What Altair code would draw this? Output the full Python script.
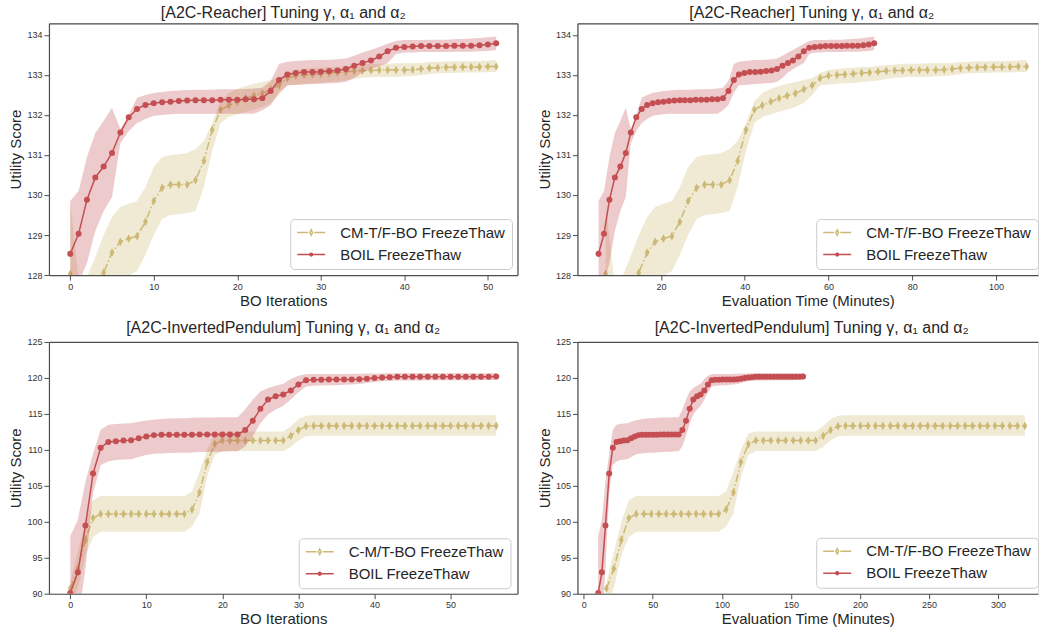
import altair as alt
import pandas as pd

# ------------------------------------------------------------------ data
reacher_iter = list(range(52))
reacher_red_time = [5.1, 6.4, 7.7, 9.0, 10.3, 11.6, 12.8, 14.1, 15.4, 16.7,
                    18.0, 19.3, 20.6, 21.9, 23.2, 24.5, 25.7, 27.0, 28.3, 29.6,
                    30.9, 32.2, 33.5, 34.8, 36.1, 37.4, 38.6, 39.9, 41.2, 42.5,
                    43.8, 45.1, 46.4, 47.7, 49.0, 50.3, 51.5, 52.8, 54.1, 55.4,
                    56.7, 58.0, 59.3, 60.6, 61.9, 63.2, 64.4, 65.7, 67.0, 68.3,
                    69.6, 70.9]
reacher_gold_time = [6.8, 8.8, 10.7, 12.7, 14.7, 16.7, 18.6, 20.6, 22.6, 24.5,
                     26.5, 28.5, 30.4, 32.4, 34.4, 36.4, 38.3, 40.3, 42.3, 44.2,
                     46.2, 48.2, 50.1, 52.1, 54.1, 56.1, 58.0, 60.0, 62.0, 63.9,
                     65.9, 67.9, 69.8, 71.8, 73.8, 75.8, 77.7, 79.7, 81.7, 83.6,
                     85.6, 87.6, 89.5, 91.5, 93.5, 95.5, 97.4, 99.4, 101.4, 103.3,
                     105.3, 107.3]
reacher_red_mean = [128.53, 129.03, 129.88, 130.44, 130.71, 131.05, 131.56, 131.94, 132.15, 132.25,
                    132.29, 132.32, 132.33, 132.35, 132.36, 132.37, 132.37, 132.37, 132.38, 132.38,
                    132.38, 132.39, 132.39, 132.42, 132.60, 132.87, 133.01, 133.05, 133.07, 133.07,
                    133.08, 133.10, 133.11, 133.15, 133.23, 133.30, 133.36, 133.46, 133.59, 133.68,
                    133.70, 133.71, 133.72, 133.72, 133.72, 133.72, 133.73, 133.73, 133.73, 133.74,
                    133.76, 133.79]
reacher_red_hi = [129.85, 130.10, 130.95, 131.55, 131.85, 132.18, 131.65, 132.00, 132.43, 132.50,
                  132.55, 132.57, 132.60, 132.61, 132.62, 132.63, 132.63, 132.63, 132.64, 132.64,
                  132.64, 132.65, 132.66, 132.68, 132.85, 133.27, 133.33, 133.35, 133.36, 133.37,
                  133.37, 133.38, 133.39, 133.41, 133.48, 133.56, 133.62, 133.70, 133.78, 133.85,
                  133.87, 133.87, 133.87, 133.88, 133.88, 133.88, 133.89, 133.90, 133.91, 133.92,
                  133.94, 133.96]
reacher_red_lo = [127.00, 127.80, 128.30, 129.10, 129.60, 129.95, 131.30, 131.60, 131.80, 131.90,
                  131.98, 132.00, 132.02, 132.03, 132.03, 132.03, 132.03, 132.03, 132.03, 132.03,
                  132.03, 132.03, 132.03, 132.12, 132.25, 132.56, 132.74, 132.75, 132.76, 132.77,
                  132.78, 132.79, 132.80, 132.83, 132.92, 133.06, 133.14, 133.22, 133.30, 133.52,
                  133.56, 133.56, 133.57, 133.57, 133.57, 133.57, 133.58, 133.58, 133.58, 133.59,
                  133.60, 133.62]
reacher_gold_mean = [128.03, 127.60, 127.50, 127.85, 128.06, 128.56, 128.83, 128.91, 128.97, 129.33,
                     129.85, 130.18, 130.26, 130.26, 130.26, 130.37, 130.85, 131.63, 132.13, 132.24,
                     132.33, 132.42, 132.48, 132.54, 132.64, 132.74, 132.92, 132.98, 133.00, 133.01,
                     133.03, 133.05, 133.06, 133.08, 133.10, 133.11, 133.11, 133.12, 133.12, 133.12,
                     133.12, 133.13, 133.15, 133.17, 133.18, 133.19, 133.19, 133.20, 133.20, 133.20,
                     133.21, 133.21]
reacher_gold_hi = [129.80, 127.90, 127.95, 128.45, 129.00, 129.45, 129.70, 129.78, 129.85, 130.20,
                   130.70, 130.95, 131.00, 131.02, 131.05, 131.15, 131.35, 131.80, 132.35, 132.55,
                   132.65, 132.72, 132.78, 132.82, 132.87, 132.92, 133.05, 133.12, 133.15, 133.17,
                   133.18, 133.20, 133.20, 133.22, 133.24, 133.26, 133.28, 133.28, 133.28, 133.29,
                   133.29, 133.29, 133.30, 133.32, 133.33, 133.34, 133.34, 133.35, 133.35, 133.35,
                   133.36, 133.37]
reacher_gold_lo = [127.00, 126.80, 126.90, 127.30, 127.90, 127.90, 127.95, 127.98, 128.10, 128.50,
                   129.00, 129.40, 129.50, 129.52, 129.55, 129.60, 130.20, 131.10, 131.80, 131.95,
                   132.02, 132.08, 132.13, 132.20, 132.30, 132.50, 132.74, 132.76, 132.78, 132.79,
                   132.80, 132.82, 132.84, 132.86, 132.90, 132.93, 132.94, 132.95, 132.95, 132.95,
                   132.96, 132.97, 132.99, 133.02, 133.04, 133.05, 133.05, 133.06, 133.06, 133.06,
                   133.07, 133.07]

pend_iter = list(range(57))
pend_red_time = [10.4, 13.1, 15.7, 18.4, 21.0, 23.7, 26.3, 29.0, 31.6, 34.3,
                 36.9, 39.6, 42.2, 44.9, 47.5, 50.2, 52.8, 55.5, 58.1, 60.8,
                 63.4, 66.1, 68.7, 71.4, 74.0, 76.7, 79.3, 82.0, 84.6, 87.3,
                 89.9, 92.6, 95.2, 97.9, 100.5, 103.2, 105.8, 108.5, 111.1, 113.8,
                 116.4, 119.1, 121.7, 124.4, 127.0, 129.7, 132.3, 135.0, 137.6, 140.3,
                 142.9, 145.6, 148.2, 150.9, 153.5, 156.2, 158.8]
pend_gold_time = [16.4, 21.8, 27.2, 32.6, 38.0, 43.5, 48.9, 54.3, 59.7, 65.1,
                  70.5, 75.9, 81.3, 86.7, 92.1, 97.6, 103.0, 108.4, 113.8, 119.2,
                  124.6, 130.0, 135.4, 140.8, 146.2, 151.7, 157.1, 162.5, 167.9, 173.3,
                  178.7, 184.1, 189.5, 194.9, 200.3, 205.8, 211.2, 216.6, 222.0, 227.4,
                  232.8, 238.2, 243.6, 249.0, 254.4, 259.9, 265.3, 270.7, 276.1, 281.5,
                  286.9, 292.3, 297.7, 303.1, 308.5, 314.0, 319.4]
pend_red_mean = [90.10, 92.97, 99.50, 106.70, 110.30, 111.10, 111.20, 111.30, 111.35, 111.60,
                 111.87, 112.05, 112.10, 112.10, 112.10, 112.10, 112.10, 112.12, 112.12, 112.12,
                 112.13, 112.14, 112.15, 112.75, 114.05, 115.70, 117.00, 117.45, 117.70, 118.27,
                 119.10, 119.67, 119.76, 119.76, 119.77, 119.77, 119.78, 119.79, 119.82, 119.90,
                 120.00, 120.05, 120.10, 120.15, 120.17, 120.18, 120.18, 120.18, 120.18, 120.18,
                 120.18, 120.18, 120.18, 120.18, 120.18, 120.18, 120.20]
pend_red_hi = [98.00, 100.30, 105.60, 109.50, 112.80, 113.50, 113.60, 113.65, 113.70, 113.90,
               114.10, 114.20, 114.30, 114.35, 114.40, 114.40, 114.45, 114.50, 114.50, 114.50,
               114.52, 114.53, 114.55, 115.60, 117.00, 118.10, 118.60, 118.90, 119.20, 119.85,
               120.30, 120.50, 120.55, 120.55, 120.55, 120.56, 120.56, 120.57, 120.58, 120.60,
               120.62, 120.63, 120.64, 120.65, 120.65, 120.65, 120.65, 120.65, 120.65, 120.65,
               120.65, 120.65, 120.65, 120.65, 120.65, 120.66, 120.67]
pend_red_lo = [82.00, 86.00, 93.50, 104.00, 107.90, 108.40, 108.60, 108.65, 108.70, 109.00,
               109.30, 109.45, 109.50, 109.55, 109.60, 109.60, 109.65, 109.70, 109.70, 109.75,
               109.75, 109.80, 109.80, 110.50, 111.90, 113.70, 114.90, 115.60, 116.10, 117.00,
               118.00, 118.80, 118.90, 118.95, 119.00, 119.00, 119.05, 119.10, 119.15, 119.30,
               119.45, 119.55, 119.60, 119.65, 119.65, 119.66, 119.66, 119.67, 119.67, 119.68,
               119.68, 119.68, 119.69, 119.69, 119.70, 119.70, 119.70]
pend_gold_mean = [90.74, 93.50, 97.50, 100.50, 101.10, 101.10, 101.10, 101.10, 101.10, 101.10,
                  101.10, 101.10, 101.10, 101.10, 101.10, 101.10, 101.70, 104.10, 108.30, 110.80,
                  111.30, 111.30, 111.30, 111.30, 111.30, 111.30, 111.30, 111.30, 111.30, 111.96,
                  112.75, 113.30, 113.35, 113.35, 113.35, 113.35, 113.35, 113.35, 113.35, 113.35,
                  113.35, 113.35, 113.35, 113.35, 113.35, 113.35, 113.35, 113.35, 113.35, 113.35,
                  113.35, 113.35, 113.35, 113.35, 113.35, 113.35, 113.35]
pend_gold_hi = [91.60, 95.80, 100.00, 103.00, 103.60, 103.60, 103.60, 103.60, 103.60, 103.60,
                103.60, 103.60, 103.60, 103.60, 103.60, 103.60, 104.20, 107.00, 110.00, 112.30,
                112.55, 112.55, 112.55, 112.55, 112.55, 112.55, 112.55, 112.55, 112.55, 113.30,
                114.30, 114.75, 114.80, 114.80, 114.80, 114.80, 114.80, 114.80, 114.80, 114.80,
                114.80, 114.80, 114.80, 114.80, 114.80, 114.80, 114.80, 114.80, 114.80, 114.80,
                114.80, 114.80, 114.80, 114.80, 114.80, 114.80, 114.80]
pend_gold_lo = [88.50, 90.80, 95.30, 97.90, 98.60, 98.60, 98.60, 98.60, 98.60, 98.60,
                98.60, 98.60, 98.60, 98.60, 98.60, 98.60, 99.30, 101.20, 106.30, 109.30,
                109.85, 109.85, 109.85, 109.85, 109.85, 109.85, 109.85, 109.85, 109.85, 110.40,
                111.30, 111.90, 111.95, 111.95, 111.95, 111.95, 111.95, 111.95, 111.95, 111.95,
                111.95, 111.95, 111.95, 111.95, 111.95, 111.95, 111.95, 111.95, 111.95, 111.95,
                111.95, 111.95, 111.95, 111.95, 111.95, 111.95, 111.95]

reacher_ticks_y = [128, 129, 130, 131, 132, 133, 134]
pend_ticks_y = [90, 95, 100, 105, 110, 115, 120, 125]
iter_ticks_r = [0, 10, 20, 30, 40, 50]
time_ticks_r = [20, 40, 60, 80, 100]
time_ticks_p = [0, 50, 100, 150, 200, 250, 300]

title_reacher = "[A2C-Reacher] Tuning γ, α₁ and α₂"
title_pend = "[A2C-InvertedPendulum] Tuning γ, α₁ and α₂"
label_gold_a = "CM-T/F-BO FreezeThaw"
label_gold_b = "C-M/T-BO FreezeThaw"
label_red = "BOIL FreezeThaw"

# ------------------------------------------------------------------ style
RED = "#C44E52"
GOLD = "#CCB974"
FONT = "Liberation Sans"
AX = "#4d4d4d"
TXT = "#262626"
GOLD_SHAPE = "M0,-1L0.54,0L0,1L-0.54,0Z"
LEG_GOLD = "M-1,0H-0.22M0.22,0H1M0,-0.19L0.1,0L0,0.19L-0.1,0Z"
LEG_RED = ("M-1,0H1M0.1,0A0.1,0.1,0,1,1,-0.1,0A0.1,0.1,0,1,1,0.1,0Z"
           "M0.03,0A0.03,0.03,0,1,1,-0.03,0A0.03,0.03,0,1,1,0.03,0Z")
PW_L, PW_R, PH = 469, 461, 252


def axis_main(values, title, orient, tpad):
    return alt.Axis(values=values, title=title, orient=orient, grid=False,
                    domain=True, domainColor=AX, domainWidth=1.2,
                    ticks=True, tickColor=AX, tickSize=5, tickWidth=1,
                    labelFont=FONT, labelFontSize=9, labelColor="#333333",
                    labelPadding=2, labelFlush=False, labelOverlap=False,
                    titleFont=FONT, titleFontSize=15, titleFontWeight="normal",
                    titleColor=TXT, titlePadding=tpad)


def axis_spine(orient):
    return alt.Axis(orient=orient, labels=False, ticks=False, title=None, grid=False,
                    domain=True, domainColor=AX, domainWidth=1.2)


def panel(title, xtitle, gold_label, gx, gm, glo, ghi, rx, rm, rlo, rhi,
          xdom, xticks, ydom, yticks, width, box, legx, legy, tdx):
    gold = pd.DataFrame({"x": gx, "mean": gm, "lo": glo, "hi": ghi})
    red = pd.DataFrame({"x": rx, "mean": rm, "lo": rlo, "hi": rhi})
    xs = alt.Scale(domain=xdom, nice=False, zero=False)
    ys = alt.Scale(domain=ydom, nice=False, zero=False)

    def X(axis):
        return alt.X("x:Q", scale=xs, axis=axis)

    def Y(field, axis):
        return alt.Y(field + ":Q", scale=ys, axis=axis)

    g_band = alt.Chart(gold).mark_area(color=GOLD, opacity=0.3, clip=True).encode(
        x=X(axis_main(xticks, xtitle, "bottom", 2)),
        y=Y("lo", axis_main(yticks, "Utility Score", "left", 3)), y2="hi:Q")
    g_line = alt.Chart(gold).mark_line(color=GOLD, strokeWidth=1.5,
                                       strokeDash=[8, 2.5, 1.5, 2.5], clip=True).encode(
        x=X(axis_spine("top")), y=Y("mean", axis_spine("right") if box else None))
    g_pts = alt.Chart(gold).mark_point(shape=GOLD_SHAPE, filled=True, size=76, color=GOLD,
                                       opacity=1, clip=True).encode(x=X(None), y=Y("mean", None))
    r_band = alt.Chart(red).mark_area(color=RED, opacity=0.3, clip=True).encode(
        x=X(None), y=Y("lo", None), y2="hi:Q")
    r_line = alt.Chart(red).mark_line(color=RED, strokeWidth=1.5, clip=True).encode(
        x=X(None), y=Y("mean", None))
    r_pts = alt.Chart(red).mark_point(shape="circle", filled=True, size=36, color=RED,
                                      opacity=1, clip=True).encode(x=X(None), y=Y("mean", None))
    dom = [gold_label, label_red]
    leg = alt.Legend(title=None, orient="none", legendX=legx, legendY=legy,
                     padding=6, fillColor="white", strokeColor="#cccccc", cornerRadius=4,
                     labelFont=FONT, labelFontSize=15, labelColor=TXT, labelOffset=14,
                     labelLimit=400, symbolSize=784, symbolStrokeWidth=1.5,
                     clipHeight=15, rowPadding=6)
    legend_layer = alt.Chart(red).transform_filter("false").mark_point(
        filled=False, opacity=1, strokeWidth=1.5, size=784).encode(
        color=alt.Color("method:N", scale=alt.Scale(domain=dom, range=[GOLD, RED]), legend=leg),
        shape=alt.Shape("method:N", scale=alt.Scale(domain=dom, range=[LEG_GOLD, LEG_RED]), legend=leg))
    return alt.layer(g_band, g_line, g_pts, r_band, r_line, r_pts, legend_layer).resolve_axis(
        x="independent", y="independent").properties(
        width=width, height=PH,
        title=alt.TitleParams(text=title, font=FONT, fontSize=16, fontWeight="normal",
                              color=TXT, frame="group", anchor="middle", offset=2, dx=tdx))


p1 = panel(title_reacher, "BO Iterations", label_gold_a,
           reacher_iter, reacher_gold_mean, reacher_gold_lo, reacher_gold_hi,
           reacher_iter, reacher_red_mean, reacher_red_lo, reacher_red_hi,
           [-2.55, 53.55], iter_ticks_r, [128, 134.29], reacher_ticks_y, PW_L, True, 241.5, 196, 0)
p2 = panel(title_reacher, "Evaluation Time (Minutes)", label_gold_a,
           reacher_gold_time, reacher_gold_mean, reacher_gold_lo, reacher_gold_hi,
           reacher_red_time, reacher_red_mean, reacher_red_lo, reacher_red_hi,
           [0.06, 110.0], time_ticks_r, [128, 134.29], reacher_ticks_y, PW_R, False, 239, 196, 4)
p3 = panel(title_pend, "BO Iterations", label_gold_b,
           pend_iter, pend_gold_mean, pend_gold_lo, pend_gold_hi,
           pend_iter, pend_red_mean, pend_red_lo, pend_red_hi,
           [-2.8, 58.8], iter_ticks_r, [90, 125], pend_ticks_y, PW_L, True, 250, 196.5, 0)
p4 = panel(title_pend, "Evaluation Time (Minutes)", label_gold_a,
           pend_gold_time, pend_gold_mean, pend_gold_lo, pend_gold_hi,
           pend_red_time, pend_red_mean, pend_red_lo, pend_red_hi,
           [-4.6, 328.9], time_ticks_p, [90, 125], pend_ticks_y, PW_R, False, 239, 196, 4)


def indep(c):
    return c.resolve_scale(color="independent", shape="independent").resolve_legend(
        color="independent", shape="independent")


row1 = indep(alt.hconcat(p1, p2, spacing=18))
row2 = indep(alt.hconcat(p3, p4, spacing=18))
chart = indep(alt.vconcat(row1, row2, spacing=10)).properties(
    padding={"left": 8, "top": 4, "right": 0, "bottom": 0}
).configure_view(stroke="transparent", strokeWidth=0).configure(font=FONT, background="white")

chart.save("out.html", embed_options={"renderer": "svg", "actions": False})
